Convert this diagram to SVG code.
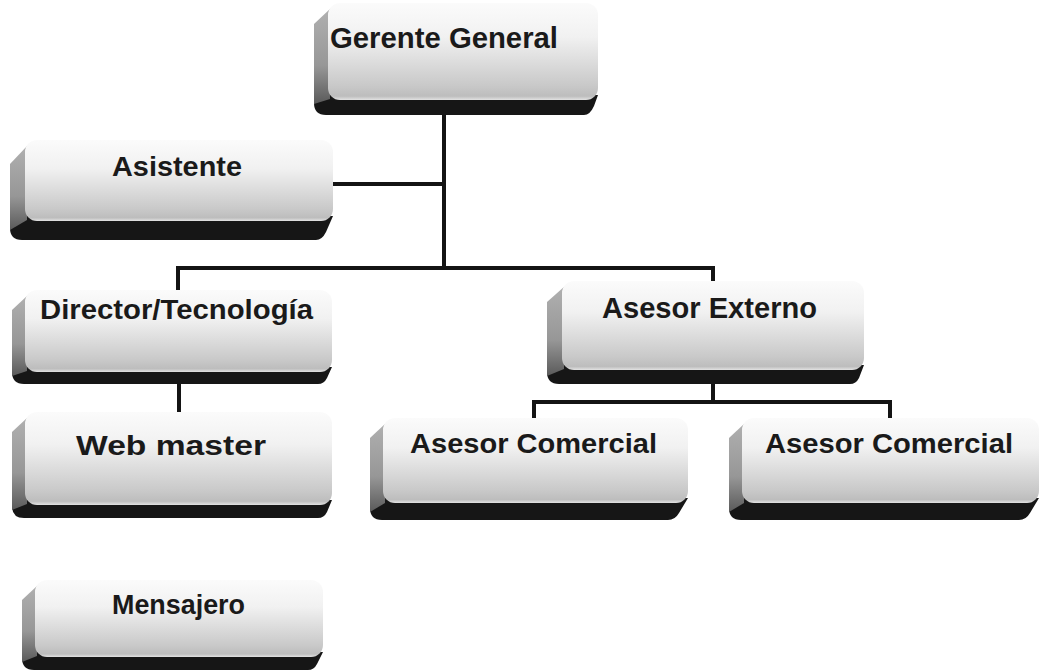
<svg xmlns="http://www.w3.org/2000/svg" width="1041" height="671" viewBox="0 0 1041 671">
<defs>
<linearGradient id="face" x1="0" y1="0" x2="0" y2="1">
<stop offset="0" stop-color="#fbfbfb"/>
<stop offset="0.35" stop-color="#f1f1f1"/>
<stop offset="0.85" stop-color="#c9c9c9"/>
<stop offset="0.96" stop-color="#bdbdbd"/>
<stop offset="1" stop-color="#e2e2e2"/>
</linearGradient>
<linearGradient id="side" x1="0" y1="0" x2="0" y2="1">
<stop offset="0" stop-color="#b0b0b0"/>
<stop offset="0.6" stop-color="#979797"/>
<stop offset="1" stop-color="#5a5a5a"/>
</linearGradient>
</defs>
<style>
.face{fill:url(#face)}
.side{fill:url(#side)}
.base{fill:#161616}
.lbl{font-family:"Liberation Sans",Arial,sans-serif;font-weight:bold;fill:#1a1a1a;text-anchor:middle}
.con{stroke:#141414;stroke-width:4;fill:none}
</style>
<rect width="1041" height="671" fill="#ffffff"/>

<g id="connectors">
<path class="con" d="M444,112 V268"/>
<path class="con" d="M330,184 H444"/>
<path class="con" d="M178,268 H713"/>
<path class="con" d="M178,266 V292"/>
<path class="con" d="M713,266 V283"/>
<path class="con" d="M179,382 V414"/>
<path class="con" d="M713,382 V402"/>
<path class="con" d="M534,402 H890"/>
<path class="con" d="M534,400 V420"/>
<path class="con" d="M890,400 V420"/>
</g>

<g id="gerente">
<path class="base" d="M328,15 L314,30 L314,103 Q314,115 326,115 L584,115 Q590,115 594,106 L598,95 L328,95 Z"/>
<path class="side" d="M331,8 L314,24 L314,104 L330,99 Z"/>
<rect class="face" x="328" y="3" width="270" height="97" rx="12"/>
<text class="lbl" x="444" y="48" font-size="29" textLength="228" lengthAdjust="spacingAndGlyphs">Gerente General</text>
</g>

<g id="asistente">
<path class="base" d="M25,152 L10,170 L10,228 Q10,240 22,240 L316,240 Q322,240 326,232 L333,216 L25,216 Z"/>
<path class="side" d="M28,145 L10,164 L10,230 L27,220 Z"/>
<rect class="face" x="25" y="140" width="308" height="81" rx="12"/>
<text class="lbl" x="177" y="176" font-size="27" textLength="130" lengthAdjust="spacingAndGlyphs">Asistente</text>
</g>

<g id="director">
<path class="base" d="M25,302 L12,314 L12,372 Q12,384 24,384 L318,384 Q324,384 327,378 L332,367 L25,367 Z"/>
<path class="side" d="M28,295 L12,310 L12,376 L27,371 Z"/>
<rect class="face" x="25" y="290" width="307" height="82" rx="12"/>
<text class="lbl" x="176.5" y="319" font-size="27" textLength="273" lengthAdjust="spacingAndGlyphs">Director/Tecnología</text>
</g>

<g id="webmaster">
<path class="base" d="M25,424 L12,436 L12,506 Q12,518 24,518 L318,518 Q324,518 327,512 L332,500 L25,500 Z"/>
<path class="side" d="M28,417 L12,432 L12,510 L27,504 Z"/>
<rect class="face" x="25" y="412" width="307" height="93" rx="12"/>
<text class="lbl" x="171" y="455" font-size="28" textLength="190" lengthAdjust="spacingAndGlyphs">Web master</text>
</g>

<g id="asesorexterno">
<path class="base" d="M562,293 L547,306 L547,372 Q547,384 559,384 L850,384 Q856,384 859,378 L864,365 L562,365 Z"/>
<path class="side" d="M565,286 L547,302 L547,376 L564,369 Z"/>
<rect class="face" x="562" y="281" width="302" height="89" rx="12"/>
<text class="lbl" x="709.5" y="318" font-size="29" textLength="215" lengthAdjust="spacingAndGlyphs">Asesor Externo</text>
</g>

<g id="asesorcomercial1">
<path class="base" d="M383,430 L370,442 L370,508 Q370,520 382,520 L668,520 Q675,520 679,513 L688,498 L383,498 Z"/>
<path class="side" d="M386,423 L370,438 L370,512 L385,503 Z"/>
<rect class="face" x="383" y="418" width="305" height="85" rx="12"/>
<text class="lbl" x="533.5" y="453" font-size="28" textLength="247" lengthAdjust="spacingAndGlyphs">Asesor Comercial</text>
</g>

<g id="asesorcomercial2">
<path class="base" d="M742,430 L729,442 L729,508 Q729,520 741,520 L1019,520 Q1026,520 1030,513 L1039,498 L742,498 Z"/>
<path class="side" d="M745,423 L729,438 L729,512 L744,503 Z"/>
<rect class="face" x="742" y="418" width="297" height="85" rx="12"/>
<text class="lbl" x="889" y="453" font-size="28" textLength="248" lengthAdjust="spacingAndGlyphs">Asesor Comercial</text>
</g>

<g id="mensajero">
<path class="base" d="M35,592 L22,604 L22,658 Q22,670 34,670 L308,670 Q314,670 317,664 L323,652 L35,652 Z"/>
<path class="side" d="M38,585 L22,600 L22,662 L37,656 Z"/>
<rect class="face" x="35" y="580" width="288" height="77" rx="12"/>
<text class="lbl" x="178.5" y="614" font-size="27" textLength="133" lengthAdjust="spacingAndGlyphs">Mensajero</text>
</g>
</svg>
